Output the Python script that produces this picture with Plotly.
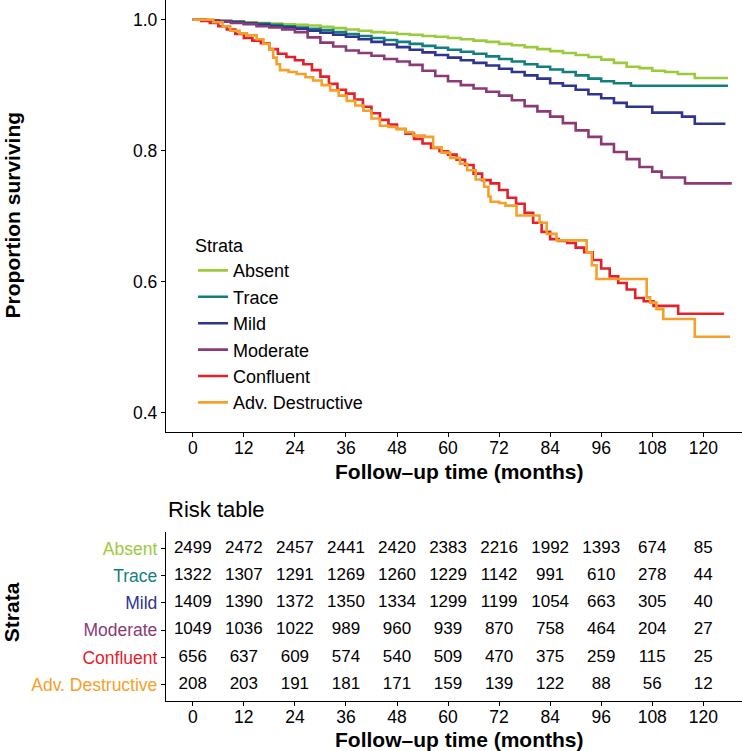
import plotly.graph_objects as go

FONT = "Liberation Sans"

strata = ["Absent", "Trace", "Mild", "Moderate", "Confluent", "Adv. Destructive"]
colors = ["#9BCB3C", "#127F7F", "#2F3490", "#8B3A77", "#E4202A", "#F5A02A"]

# Kaplan-Meier step curves (months, proportion surviving)
t_absent = [0, 3, 6, 9, 12, 15, 18, 21, 24, 27, 30, 33, 36, 39, 42, 45, 48, 51, 54, 57, 60,
            63, 66, 69, 72, 75, 78, 81, 84, 87, 90, 93, 96, 99, 102, 105, 108, 111, 114, 118, 125.8]
s_absent = [1.0, 0.999, 0.998, 0.997, 0.996, 0.995, 0.994, 0.993, 0.992, 0.991, 0.989, 0.987,
            0.985, 0.983, 0.981, 0.980, 0.978, 0.977, 0.975, 0.974, 0.972, 0.970, 0.968, 0.966,
            0.963, 0.961, 0.958, 0.955, 0.952, 0.949, 0.946, 0.943, 0.939, 0.934, 0.928, 0.926,
            0.922, 0.920, 0.917, 0.911, 0.911]

t_trace = [0, 3, 6, 9, 12, 15, 18, 21, 24, 27, 30, 33, 36, 39, 42, 45, 48, 51, 54, 57, 60,
           63, 66, 69, 72, 75, 78, 81, 84, 87, 90, 93, 96, 99, 103, 125.8]
s_trace = [1.0, 0.999, 0.998, 0.997, 0.995, 0.994, 0.992, 0.990, 0.988, 0.986, 0.984, 0.981,
           0.978, 0.975, 0.972, 0.969, 0.966, 0.963, 0.960, 0.957, 0.954, 0.951, 0.948, 0.944,
           0.940, 0.936, 0.932, 0.928, 0.924, 0.920, 0.915, 0.910, 0.906, 0.903, 0.899, 0.899]

t_mild = [0, 3, 6, 9, 12, 15, 18, 21, 24, 27, 30, 33, 36, 39, 42, 45, 48, 51, 54, 57, 60,
          63, 66, 69, 72, 75, 78, 81, 84, 87, 90, 93, 96, 99, 102, 108, 115, 118, 125.2]
s_mild = [1.0, 0.999, 0.998, 0.996, 0.994, 0.992, 0.990, 0.988, 0.986, 0.983, 0.980, 0.977,
          0.974, 0.970, 0.966, 0.962, 0.958, 0.954, 0.950, 0.946, 0.942, 0.938, 0.934, 0.930,
          0.925, 0.920, 0.915, 0.910, 0.903, 0.899, 0.893, 0.886, 0.880, 0.873, 0.867, 0.858,
          0.852, 0.841, 0.841]

t_moderate = [0, 3, 6, 9, 12, 15, 18, 21, 24, 27, 30, 33, 36, 39, 42, 45, 48, 51, 54, 57, 60,
              63, 66, 69, 72, 75, 78, 81, 84, 87, 90, 93, 96, 99, 102, 105, 108, 110.2, 115.7, 126.7]
s_moderate = [1.0, 0.999, 0.997, 0.995, 0.993, 0.990, 0.988, 0.985, 0.981, 0.973, 0.965, 0.959,
              0.953, 0.949, 0.945, 0.940, 0.936, 0.931, 0.922, 0.914, 0.906, 0.900, 0.895, 0.890,
              0.884, 0.877, 0.868, 0.860, 0.852, 0.842, 0.831, 0.821, 0.810, 0.798, 0.787, 0.775,
              0.768, 0.759, 0.750, 0.750]

t_confluent = [0, 2, 4, 6, 8, 10, 12, 14, 16, 18, 20, 22, 24, 26, 28, 30, 32, 34, 36, 38, 40,
               42, 44, 46, 48, 50, 52, 54, 56, 58, 60, 62, 64, 66, 68, 70, 72, 74, 76, 78, 80,
               82, 84, 86, 88, 90, 92, 94, 96, 98, 100, 102, 104, 106, 108.3, 114.1, 124.9]
s_confluent = [1.0, 0.998, 0.995, 0.990, 0.985, 0.978, 0.972, 0.968, 0.964, 0.955, 0.948, 0.943,
               0.938, 0.932, 0.923, 0.913, 0.902, 0.893, 0.887, 0.878, 0.867, 0.857, 0.847, 0.840,
               0.833, 0.826, 0.818, 0.811, 0.804, 0.799, 0.794, 0.786, 0.778, 0.765, 0.755, 0.750,
               0.740, 0.728, 0.719, 0.705, 0.690, 0.676, 0.665, 0.662, 0.659, 0.652, 0.645, 0.633,
               0.620, 0.608, 0.598, 0.588, 0.575, 0.570, 0.563, 0.551, 0.551]

t_advdes = [0, 4.8, 7, 8.8, 11, 12.7, 15, 16.6, 18, 18.9, 19.7, 20.5, 22.5, 24.4, 26.5, 28.3,
            30.3, 32.3, 34.3, 36.2, 38.2, 40.1, 42, 44, 46, 47.9, 50, 51.8, 54.5, 56.5, 58.5,
            60.5, 62.8, 64.5, 66.5, 68.5, 69.5, 70, 72, 73.5, 76.1, 81.5, 83.2, 85.5, 92.6,
            93.8, 94.9, 105.5, 106.7, 107.5, 109, 110.6, 118, 126.3]
s_advdes = [1.0, 0.996, 0.990, 0.983, 0.979, 0.976, 0.970, 0.963, 0.955, 0.942, 0.932, 0.923,
            0.920, 0.917, 0.912, 0.907, 0.900, 0.892, 0.884, 0.876, 0.869, 0.861, 0.849, 0.838,
            0.836, 0.833, 0.828, 0.823, 0.821, 0.805, 0.797, 0.789, 0.780, 0.770, 0.756, 0.745,
            0.730, 0.722, 0.720, 0.716, 0.701, 0.690, 0.673, 0.663, 0.645, 0.625, 0.604, 0.604,
            0.576, 0.568, 0.558, 0.543, 0.516, 0.516]

curve_t = [t_absent, t_trace, t_mild, t_moderate, t_confluent, t_advdes]
curve_s = [s_absent, s_trace, s_mild, s_moderate, s_confluent, s_advdes]

# Risk table
risk_times = [0, 12, 24, 36, 48, 60, 72, 84, 96, 108, 120]
risk_absent = [2499, 2472, 2457, 2441, 2420, 2383, 2216, 1992, 1393, 674, 85]
risk_trace = [1322, 1307, 1291, 1269, 1260, 1229, 1142, 991, 610, 278, 44]
risk_mild = [1409, 1390, 1372, 1350, 1334, 1299, 1199, 1054, 663, 305, 40]
risk_moderate = [1049, 1036, 1022, 989, 960, 939, 870, 758, 464, 204, 27]
risk_confluent = [656, 637, 609, 574, 540, 509, 470, 375, 259, 115, 25]
risk_advdes = [208, 203, 191, 181, 171, 159, 139, 122, 88, 56, 12]
risk_rows = [risk_absent, risk_trace, risk_mild, risk_moderate, risk_confluent, risk_advdes]

y_ticks = [0.4, 0.6, 0.8, 1.0]
y_ticklabels = ["0.4", "0.6", "0.8", "1.0"]

fig = go.Figure()

for name, col, t, s in zip(strata, colors, curve_t, curve_s):
    fig.add_trace(go.Scatter(x=t, y=s, mode="lines", name=name,
                             line=dict(shape="hv", color=col, width=2.6),
                             xaxis="x", yaxis="y"))

for name, row in zip(strata, risk_rows):
    fig.add_trace(go.Scatter(x=risk_times, y=[name] * len(row), mode="text",
                             text=[str(v) for v in row], showlegend=False,
                             textfont=dict(family=FONT, size=17, color="black"),
                             xaxis="x2", yaxis="y2"))

axis_common = dict(showline=True, linecolor="black", linewidth=1.3, ticks="outside",
                   ticklen=4, tickwidth=1.3, tickcolor="black", showgrid=False,
                   zeroline=False, tickfont=dict(family=FONT, size=17.5, color="black"))

fig.update_layout(
    width=742, height=751,
    margin=dict(l=166, r=0, t=0, b=50),
    paper_bgcolor="white", plot_bgcolor="white",
    font=dict(family=FONT, color="black"),
    xaxis=dict(domain=[0, 1], range=[-6.3, 129.1], tickvals=risk_times, anchor="y",
               ticklabelstandoff=-4, **axis_common),
    yaxis=dict(domain=[0.3833, 1], range=[0.37, 1.03], tickvals=y_ticks, ticktext=y_ticklabels,
               anchor="x", **axis_common),
    xaxis2=dict(domain=[0, 1], range=[-6.3, 129.1], tickvals=risk_times, anchor="y2",
                ticklabelstandoff=-4, **axis_common),
    yaxis2=dict(domain=[0, 0.241], type="category", categoryorder="array",
                categoryarray=strata[::-1], range=[-0.6, 5.6],
                tickvals=strata,
                ticktext=[f'<span style="color:{c}">{s}</span>' for s, c in zip(strata, colors)],
                anchor="x2", **axis_common),
    legend=dict(x=0.047, y=0.6736, xanchor="left", yanchor="top",
                bgcolor="rgba(0,0,0,0)",
                title=dict(text="Strata", font=dict(family=FONT, size=18, color="black")),
                font=dict(family=FONT, size=18, color="black")),
    annotations=[
        dict(text="<b>Proportion surviving</b>", xref="paper", yref="paper", x=-0.267, y=0.693,
             xanchor="center", yanchor="middle",
             textangle=-90, showarrow=False, font=dict(family=FONT, size=21, color="black")),
        dict(text="<b>Follow\u2013up time (months)</b>", xref="paper", yref="paper", x=0.508,
             y=0.327, xanchor="center", yanchor="middle",
             showarrow=False, font=dict(family=FONT, size=21, color="black")),
        dict(text="Risk table", xref="paper", yref="paper", x=0.0, y=0.2725, xanchor="left",
             yanchor="middle",
             showarrow=False, font=dict(family=FONT, size=22, color="black")),
        dict(text="<b>Strata</b>", xref="paper", yref="paper", x=-0.267, y=0.127,
             xanchor="center", yanchor="middle",
             textangle=-90, showarrow=False, font=dict(family=FONT, size=21, color="black")),
        dict(text="<b>Follow\u2013up time (months)</b>", xref="paper", yref="paper", x=0.508,
             y=-0.055, xanchor="center", yanchor="middle",
             showarrow=False, font=dict(family=FONT, size=21, color="black")),
    ],
)

fig.write_html("out.html", config={"displayModeBar": False},
               post_script="document.body.style.margin='0';")
